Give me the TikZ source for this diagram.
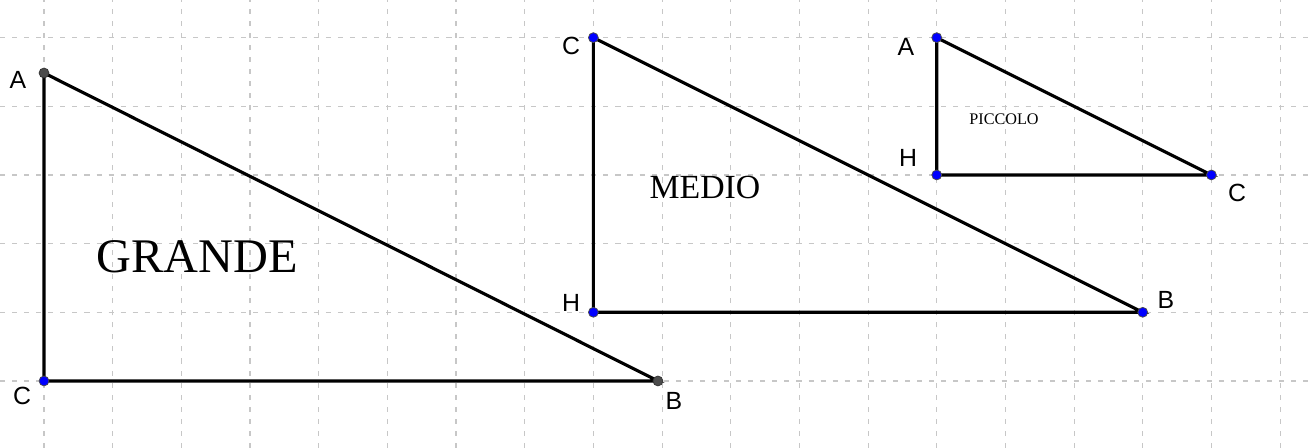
\documentclass[tikz,border=0pt]{standalone}
\usepackage{fontspec}
\setmainfont{Liberation Serif}
\newfontfamily\lblfont{Liberation Sans}
\begin{document}
\begin{tikzpicture}[x=1cm,y=1cm,
  gridline/.style={draw=black!22, line width=0.45pt, dash pattern=on 2.1pt off 2.9pt},
  edge/.style={draw=black, line width=1.3pt},
  bluept/.style={circle, fill=blue, draw=black!70, line width=0.3pt, inner sep=0pt, minimum size=4.1pt},
  graypt/.style={circle, fill=black!70, draw=black!80, line width=0.3pt, inner sep=0pt, minimum size=4.1pt},
  lbl/.style={font=\lblfont\fontsize{10.3}{12}\selectfont, inner sep=0pt}
]
\useasboundingbox (-0.641,-0.976) rectangle (18.407,5.548);
\fill[white] (-0.641,-0.976) rectangle (18.407,5.548);
% grid
\foreach \k in {0,...,18} \draw[gridline] (\k,-0.976) -- (\k,5.548);
\foreach \j in {0,...,5} \draw[gridline] (-0.641,\j) -- (18.407,\j);

% GRANDE triangle
\coordinate (gA) at (0,4.485);
\coordinate (gC) at (0,0);
\coordinate (gB) at (8.94,0);
\draw[edge] (gA) -- (gC) -- (gB) -- cycle;
\node[graypt] (pgA) at (gA) {};
\node[bluept] (pgC) at (gC) {};
\node[graypt] (pgB) at (gB) {};
\node[lbl] (lgA) at (-0.379,4.383) {A};
\node[lbl] (lgC) at (-0.32,-0.218) {C};
\node[lbl] (lgB) at (9.174,-0.291) {B};
\node[font=\fontsize{20}{24}\selectfont, inner sep=0pt] (tg) at (2.228,1.806) {GRANDE};

% MEDIO triangle
\coordinate (mC) at (8,5);
\coordinate (mH) at (8,1);
\coordinate (mB) at (16,1);
\draw[edge] (mC) -- (mH) -- (mB) -- cycle;
\node[bluept] (pmC) at (mC) {};
\node[bluept] (pmH) at (mH) {};
\node[bluept] (pmB) at (mB) {};
\node[lbl] (lmC) at (7.674,4.878) {C};
\node[lbl] (lmH) at (7.674,1.136) {H};
\node[lbl] (lmB) at (16.339,1.18) {B};
\node[font=\fontsize{14}{17}\selectfont, inner sep=0pt] (tm) at (9.626,2.811) {MEDIO};

% PICCOLO triangle
\coordinate (pA) at (13,5);
\coordinate (pH) at (13,3);
\coordinate (pC) at (17,3);
\draw[edge] (pA) -- (pH) -- (pC) -- cycle;
\node[bluept] (ppA) at (pA) {};
\node[bluept] (ppH) at (pH) {};
\node[bluept] (ppC) at (pC) {};
\node[lbl] (lpA) at (12.553,4.864) {A};
\node[lbl] (lpH) at (12.582,3.247) {H};
\node[lbl] (lpC) at (17.373,2.738) {C};
\node[font=\fontsize{6.7}{8}\selectfont, inner sep=0pt] (tp) at (13.98,3.815) {PICCOLO};
\end{tikzpicture}
\end{document}
